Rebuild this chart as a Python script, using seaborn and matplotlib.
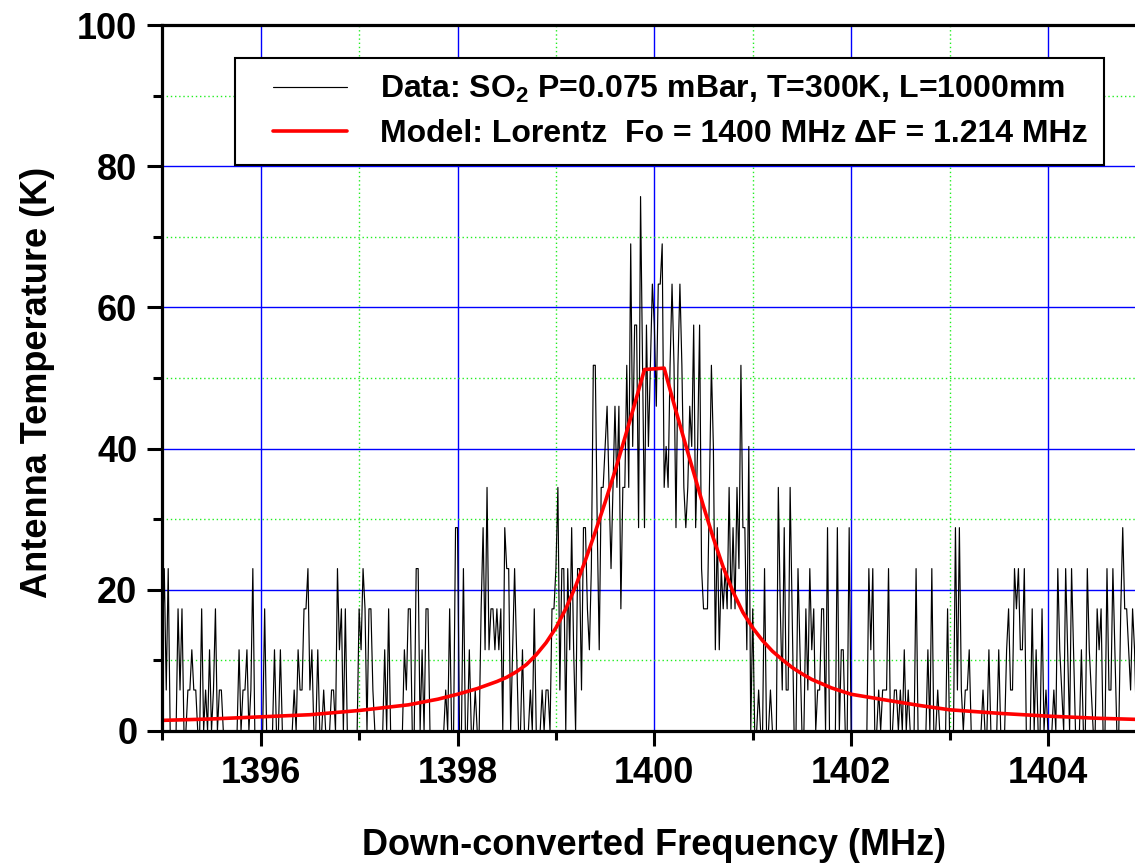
import matplotlib
matplotlib.use("Agg")
import matplotlib.pyplot as plt
import numpy as np
import seaborn as sns
from matplotlib.legend_handler import HandlerLine2D
from matplotlib.ticker import MultipleLocator

# ------------------------------------------------------------------
# Data (0.02 MHz channels, 1395-1405 MHz)
# ------------------------------------------------------------------
freq_start, freq_step, n_chan = 1395.0, 0.02, 501
data_freq = np.round(freq_start + freq_step * np.arange(n_chan), 2)

data_temp = [
    11.5, 23.0, 5.8, 23.0, 0, 0, 0, 0, 17.3, 5.8,
    17.3, 0, 0, 5.8, 5.8, 11.5, 5.8, 5.8, 0, 0,
    17.3, 0, 5.8, 0, 11.5, 0, 5.8, 17.3, 0, 5.8,
    5.8, 0, 0, 0, 0, 0, 0, 0, 0, 11.5,
    0, 5.8, 5.8, 11.5, 0, 5.8, 23.0, 0, 0, 0,
    0, 0, 17.3, 0, 0, 0, 0, 11.5, 0, 0,
    11.5, 0, 0, 0, 0, 0, 0, 5.8, 0, 11.5,
    5.8, 5.8, 17.3, 17.3, 23.0, 5.8, 11.5, 0, 0, 11.5,
    0, 0, 5.8, 0, 0, 0, 5.8, 5.8, 0, 23.0,
    11.5, 17.3, 0, 17.3, 0, 0, 0, 0, 0, 0,
    17.3, 11.5, 23.0, 17.3, 0, 17.3, 17.3, 5.8, 0, 0,
    0, 0, 0, 11.5, 0, 17.3, 0, 0, 0, 0,
    0, 0, 0, 11.5, 5.8, 17.3, 17.3, 0, 0, 23.0,
    23.0, 0, 11.5, 0, 17.3, 17.3, 0, 0, 0, 0,
    0, 0, 0, 0, 5.8, 0, 17.3, 0, 0, 28.8,
    28.8, 0, 0, 23.0, 0, 0, 11.5, 0, 0, 5.8,
    0, 0, 17.3, 28.8, 11.5, 34.5, 11.5, 17.3, 17.3, 11.5,
    17.3, 11.5, 17.3, 0, 28.8, 23.0, 23.0, 0, 11.5, 23.0,
    11.5, 0, 0, 11.5, 0, 0, 0, 5.8, 0, 17.3,
    0, 0, 0, 5.8, 0, 5.8, 5.8, 0, 17.3, 17.3,
    23.0, 34.5, 5.8, 23.0, 23.0, 0, 23.0, 11.5, 28.8, 11.5,
    0, 23.0, 23.0, 5.8, 28.8, 28.8, 17.3, 11.5, 23.0, 51.8,
    51.8, 28.8, 11.5, 34.5, 34.5, 40.3, 46.0, 34.5, 23.0, 34.5,
    46.0, 34.5, 46.0, 17.3, 34.5, 34.5, 51.8, 34.5, 69.0, 40.3,
    57.5, 57.5, 28.8, 75.7, 51.8, 28.8, 57.5, 40.3, 51.8, 63.3,
    57.5, 46.0, 63.3, 63.3, 69.0, 34.5, 40.3, 34.5, 51.8, 63.3,
    51.8, 28.8, 51.8, 63.3, 51.8, 34.5, 28.8, 34.5, 46.0, 40.3,
    57.5, 28.8, 40.3, 57.5, 23.0, 17.3, 17.3, 17.3, 34.5, 51.8,
    40.3, 11.5, 28.8, 11.5, 23.0, 17.3, 23.0, 17.3, 34.5, 17.3,
    28.8, 17.3, 34.5, 23.0, 51.8, 28.8, 28.8, 11.5, 40.3, 0,
    17.3, 0, 0, 5.8, 0, 0, 23.0, 0, 0, 5.8,
    0, 0, 0, 34.5, 17.3, 5.8, 28.8, 5.8, 5.8, 34.5,
    17.3, 0, 0, 23.0, 11.5, 0, 0, 17.3, 5.8, 23.0,
    11.5, 17.3, 0, 5.8, 5.8, 17.3, 17.3, 0, 28.8, 0,
    0, 0, 0, 28.8, 0, 11.5, 11.5, 0, 0, 28.8,
    0, 0, 0, 0, 0, 0, 0, 0, 0, 23.0,
    11.5, 23.0, 0, 0, 5.8, 0, 5.8, 5.8, 5.8, 23.0,
    0, 0, 5.8, 5.8, 0, 5.8, 0, 11.5, 0, 5.8,
    0, 0, 0, 23.0, 0, 0, 0, 0, 0, 11.5,
    0, 23.0, 0, 0, 5.8, 0, 0, 0, 0, 17.3,
    0, 0, 0, 28.8, 5.8, 28.8, 5.8, 0, 5.8, 5.8,
    11.5, 0, 0, 0, 0, 0, 0, 5.8, 0, 0,
    11.5, 0, 0, 0, 0, 11.5, 0, 0, 0, 11.5,
    17.3, 5.8, 5.8, 23.0, 17.3, 23.0, 11.5, 11.5, 23.0, 0,
    0, 0, 17.3, 0, 11.5, 0, 0, 17.3, 0, 5.8,
    0, 0, 0, 5.8, 0, 23.0, 11.5, 5.8, 0, 23.0,
    11.5, 0, 23.0, 11.5, 0, 0, 0, 11.5, 0, 0,
    23.0, 11.5, 5.8, 0, 0, 17.3, 11.5, 17.3, 0, 0,
    23.0, 5.8, 5.8, 23.0, 11.5, 0, 0, 17.3, 28.8, 17.3,
    17.3, 11.5, 5.8, 17.3, 11.5, 0, 5.8, 0, 0, 0,
    0,
]

# Lorentz model curve as drawn
model_freq = [1395.0, 1395.5, 1396.0, 1396.5, 1397.0, 1397.5, 1397.8, 1398.0,
              1398.2, 1398.4, 1398.5, 1398.6, 1398.7, 1398.8, 1398.9, 1399.0,
              1399.1, 1399.2, 1399.3, 1399.4, 1399.5, 1399.6, 1399.7, 1399.8,
              1399.9, 1400.1, 1400.2, 1400.3, 1400.4, 1400.5, 1400.6, 1400.7,
              1400.8, 1400.9, 1401.0, 1401.1, 1401.2, 1401.3, 1401.4, 1401.5,
              1401.6, 1401.8, 1402.0, 1402.3, 1402.7, 1403.0, 1403.5, 1404.0,
              1404.5, 1405.0]
model_temp = [1.5, 1.7, 2.0, 2.3, 2.9, 3.7, 4.5, 5.2,
              6.0, 7.0, 7.6, 8.4, 9.4, 10.8, 12.5, 14.6,
              17.3, 20.5, 24.2, 28.2, 32.4, 36.8, 41.5, 46.3,
              51.2, 51.4, 46.3, 41.4, 36.6, 31.8, 27.3, 23.2,
              19.7, 16.8, 14.6, 12.8, 11.3, 10.1, 9.0, 8.1,
              7.3, 6.1, 5.2, 4.5, 3.6, 3.0, 2.5, 2.1,
              1.8, 1.6]

data_label = "Data: SO$_2$ P=0.075 mBar, T=300K, L=1000mm"
model_label = "Model: Lorentz  Fo = 1400 MHz \u0394F = 1.214 MHz"

# ------------------------------------------------------------------
# Style
# ------------------------------------------------------------------
sns.set_theme(style="white")
plt.rcParams.update({
    "font.family": ["Liberation Sans", "DejaVu Sans"],
    "font.weight": "bold",
    "axes.labelweight": "bold",
    "text.color": "black",
    "axes.labelcolor": "black",
    "xtick.color": "black",
    "ytick.color": "black",
    "mathtext.fontset": "custom",
    "mathtext.rm": "Liberation Sans:bold",
    "mathtext.it": "Liberation Sans:bold",
    "mathtext.bf": "Liberation Sans:bold",
    "mathtext.default": "rm",
})

fig = plt.figure(figsize=(11.35, 8.63), dpi=100)
ax = fig.add_axes([0.143, 0.153, 0.867, 0.818])

sns.lineplot(x=data_freq, y=data_temp, ax=ax, color="black", lw=0.85,
             estimator=None, sort=False, label=data_label)
sns.lineplot(x=model_freq, y=model_temp, ax=ax, color="#ff0000", lw=2.6,
             estimator=None, sort=False, label=model_label)

ax.set_xlim(1395, 1405)
ax.set_ylim(0, 100)
ax.xaxis.set_major_locator(MultipleLocator(2))
ax.xaxis.set_minor_locator(MultipleLocator(1))
ax.yaxis.set_major_locator(MultipleLocator(20))
ax.yaxis.set_minor_locator(MultipleLocator(10))

ax.set_axisbelow(True)
ax.grid(which="major", color="#0000ff", lw=1.0, ls="-")
ax.grid(which="minor", color="#22ee22", lw=1.0, ls=(0, (1, 2)))

for side in ["left", "bottom", "top", "right"]:
    ax.spines[side].set_visible(True)
    ax.spines[side].set_color("black")
    ax.spines[side].set_linewidth(2.3)

ax.tick_params(which="major", direction="out", length=11, width=2.2,
               color="black", labelcolor="black", labelsize=26, pad=7,
               bottom=True, left=True, top=False, right=False)
ax.tick_params(which="minor", direction="out", length=6.5, width=2.2,
               color="black", bottom=True, left=True, top=False, right=False)
for lab in ax.get_xticklabels() + ax.get_yticklabels():
    lab.set_fontweight("bold")

ax.set_xlabel("Down-converted Frequency (MHz)", fontsize=26,
              fontweight="bold", color="black")
ax.set_ylabel("Antenna Temperature (K)", fontsize=26, fontweight="bold",
              color="black")
ax.xaxis.set_label_coords(0.5, -0.137)
ax.yaxis.set_label_coords(-0.109, 0.493)

leg = ax.legend(loc="upper left", bbox_to_anchor=(0.074, 0.953),
                borderaxespad=0, frameon=True, fancybox=False,
                framealpha=1, edgecolor="black", handlelength=3.0,
                handletextpad=1.05, borderpad=0.5, labelspacing=0.42,
                prop={"weight": "bold", "size": 23},
                handler_map={ln: HandlerLine2D(xpad=0.7)
                             for ln in ax.get_lines()})
leg.get_frame().set_linewidth(1.5)
for txt in leg.get_texts():
    txt.set_color("black")

fig.savefig("out.png", dpi=100, facecolor="white")
